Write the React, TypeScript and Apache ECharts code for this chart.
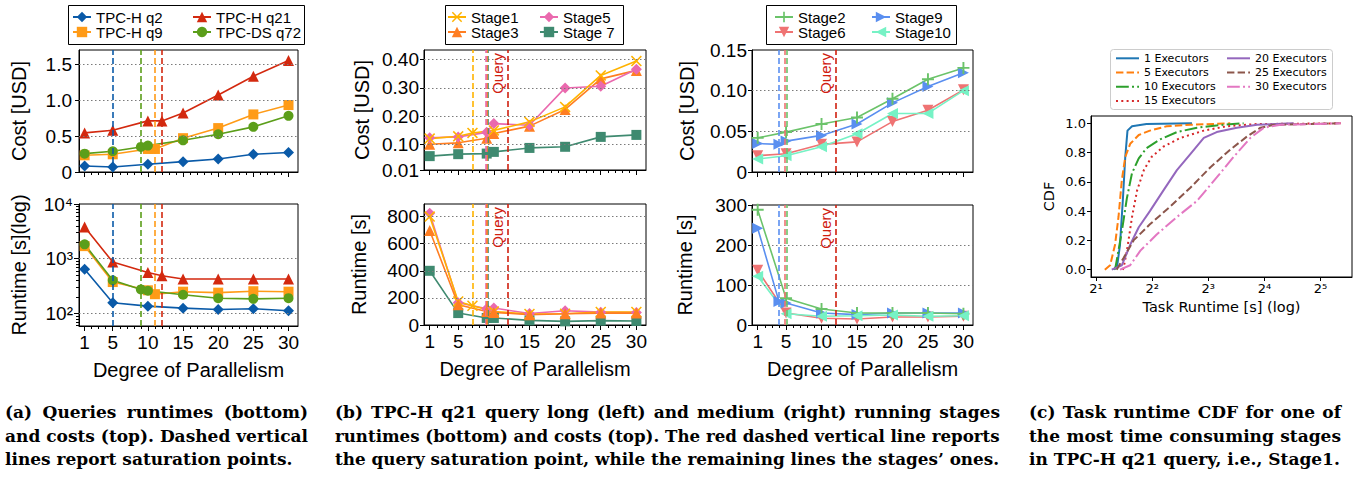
import React, { useEffect, useRef } from "react";
import * as echarts from "echarts";

// ---------------- shared ticks ----------------
const dopTicks = [1, 5, 10, 15, 20, 25, 30];
const dopMinorTicks = [2, 3, 4, 6, 7, 8, 9, 11, 12, 13, 14, 16, 17, 18, 19, 21, 22, 23, 24, 26, 27, 28, 29];

// ---------------- panel (a) ----------------
const costTicksA = [0, 0.5, 1.0, 1.5];
const costGridA = [0.5, 1.0, 1.5];
const runtimeTicksA = [100, 1000, 10000];
const runtimeTickTextA = ["10²", "10³", "10⁴"];
const runtimeMinorTicksA = [60, 70, 80, 90, 200, 300, 400, 500, 600, 700, 800, 900, 2000, 3000, 4000, 5000, 6000, 7000, 8000, 9000];
const runtimeGridA = [100, 1000];

const q2X = [1, 5, 10, 15, 20, 25, 30];
const q2Cost = [0.084, 0.07, 0.107, 0.144, 0.18, 0.246, 0.27];
const q2Run = [640, 157, 136, 125, 118, 122, 112];
const q9X = [1, 5, 10, 11, 15, 20, 25, 30];
const q9Cost = [0.232, 0.246, 0.32, 0.32, 0.47, 0.61, 0.8, 0.93];
const q9Run = [1700, 375, 265, 225, 250, 240, 255, 250];
const q21X = [1, 5, 10, 12, 15, 20, 25, 30];
const q21Cost = [0.543, 0.58, 0.71, 0.71, 0.82, 1.07, 1.33, 1.55];
const q21Run = [3800, 870, 560, 490, 425, 425, 425, 425];
const q72X = [1, 5, 9, 10, 15, 20, 25, 30];
const q72Cost = [0.255, 0.288, 0.348, 0.367, 0.44, 0.525, 0.627, 0.78];
const q72Run = [1830, 405, 275, 260, 220, 190, 185, 190];
const querySaturation = [5, 11, 12, 9]; // q2, q9, q21, q72

// ---------------- panel (b) long stages ----------------
const costTicksBL = [0.01, 0.1, 0.2, 0.3, 0.4];
const costGridBL = [0.1, 0.2, 0.3, 0.4];
const runTicksBL = [0, 200, 400, 600, 800];
const runGridBL = [200, 400, 600, 800];
const s1X = [1, 5, 7, 10, 15, 20, 25, 30];
const s1Cost = [0.121, 0.129, 0.141, 0.15, 0.18, 0.233, 0.344, 0.395];
const s1Run = [800, 174, 142, 100, 81, 83, 96, 96];
const s3X = [1, 5, 9, 10, 15, 20, 25, 30];
const s3Cost = [0.101, 0.106, 0.122, 0.139, 0.165, 0.224, 0.332, 0.362];
const s3Run = [697, 150, 100, 93, 76, 83, 88, 88];
const s5X = [1, 5, 9, 10, 15, 20, 25, 30];
const s5Cost = [0.124, 0.127, 0.143, 0.174, 0.168, 0.3, 0.306, 0.366];
const s5Run = [824, 165, 120, 125, 85, 105, 95, 92];
const s7X = [1, 5, 9, 10, 15, 20, 25, 30];
const s7Cost = [0.059, 0.066, 0.068, 0.074, 0.088, 0.092, 0.127, 0.134];
const s7Run = [400, 88, 52, 52, 34, 27, 32, 30];
const longSaturation = [7, 9.0, 8.8, 9.2]; // stage1, stage3, stage5, stage7
const querySat = 12;

// ---------------- panel (b) medium stages ----------------
const costTicksBR = [0, 0.05, 0.1, 0.15];
const costGridBR = [0.05, 0.1];
const runTicksBR = [0, 100, 200, 300];
const runGridBR = [100, 200];
const s2X = [1, 5, 10, 15, 20, 25, 30];
const s2Cost = [0.042, 0.049, 0.059, 0.067, 0.09, 0.114, 0.128];
const s2Run = [288, 67, 40, 30, 30, 30, 28];
const s6X = [1, 5, 10, 15, 20, 25, 30];
const s6Cost = [0.02, 0.0225, 0.034, 0.037, 0.062, 0.076, 0.101];
const s6Run = [137, 30, 17, 15, 20, 20, 22];
const s9X = [1, 4, 5, 10, 15, 20, 25, 30];
const s9Cost = [0.035, 0.034, 0.038, 0.045, 0.059, 0.085, 0.105, 0.122];
const s9Run = [242, 59, 55, 30, 26, 30, 30, 30];
const s10X = [1, 5, 10, 15, 20, 25, 30];
const s10Cost = [0.016, 0.02, 0.031, 0.047, 0.072, 0.072, 0.1];
const s10Run = [122, 28, 22, 23, 25, 22, 23];
const mediumSaturation = [5.1, 4.85, 4]; // stage2, stage6, stage9

// ---------------- panel (c) CDF ----------------
const cdfXTicks = [2, 4, 8, 16, 32];
const cdfXTickText = ["2¹", "2²", "2³", "2⁴", "2⁵"];
const cdfYTicks = [0, 0.2, 0.4, 0.6, 0.8, 1.0];
const exec1 = [[2.48, 0], [2.6, 0.03], [2.69, 0.17], [2.79, 0.49], [2.87, 0.77], [2.95, 0.95], [3.12, 0.98], [3.73, 0.995], [6.54, 1.0]];
const exec5 = [[2.23, 0], [2.38, 0.03], [2.53, 0.17], [2.64, 0.36], [2.75, 0.61], [2.87, 0.77], [3.05, 0.86], [3.39, 0.92], [3.89, 0.95], [4.79, 0.98], [6.41, 0.99], [10.49, 1.0]];
const exec10 = [[2.53, 0], [2.58, 0.06], [2.75, 0.26], [2.93, 0.49], [3.12, 0.66], [3.39, 0.76], [3.73, 0.83], [4.41, 0.89], [5.43, 0.94], [6.96, 0.97], [9.65, 0.99], [12.38, 1.0]];
const exec15 = [[2.78, 0], [2.81, 0.01], [2.93, 0.13], [3.12, 0.36], [3.32, 0.54], [3.61, 0.68], [3.97, 0.77], [4.59, 0.84], [5.66, 0.9], [7.57, 0.95], [10.06, 0.98], [14.62, 0.995], [41.07, 1.0]];
const exec20 = [[2.43, 0], [2.75, 0.03], [3.05, 0.17], [3.39, 0.29], [3.89, 0.4], [4.59, 0.54], [5.43, 0.68], [6.41, 0.79], [7.57, 0.9], [8.88, 0.94], [11.39, 0.97], [14.62, 0.99], [22.94, 1.0]];
const exec25 = [[2.58, 0], [2.81, 0.08], [3.18, 0.2], [3.89, 0.31], [4.99, 0.43], [6.41, 0.56], [8.22, 0.7], [10.49, 0.82], [12.91, 0.91], [15.24, 0.97], [18.0, 0.99], [41.07, 1.0]];
const exec30 = [[2.69, 0], [3.05, 0.03], [3.46, 0.13], [4.23, 0.24], [5.43, 0.36], [6.96, 0.47], [8.88, 0.63], [10.93, 0.77], [13.45, 0.9], [15.89, 0.97], [19.57, 0.99], [41.07, 1.0]];
const execNames = ["1 Executors", "5 Executors", "10 Executors", "15 Executors", "20 Executors", "25 Executors", "30 Executors"];

// ---------------- captions ----------------
const captionA = ["(a) Queries runtimes (bottom)", "and costs (top). Dashed vertical", "lines report saturation points."];
const captionB = [
  "(b) TPC-H q21 query long (left) and medium (right) running stages",
  "runtimes (bottom) and costs (top). The red dashed vertical line reports",
  "the query saturation point, while the remaining lines the stages’ ones.",
];
const captionC = ["(c) Task runtime CDF for one of", "the most time consuming stages", "in TPC-H q21 query, i.e., Stage1."];

// ---------------- styling ----------------
const SANS = "Liberation Sans";
const DEJAVU = "DejaVu Sans";
const C_Q2 = "#0a5aa8", C_Q9 = "#ff9b17", C_Q21 = "#d3290f", C_Q72 = "#5b9e1a";
const C_S1 = "#ffb300", C_S3 = "#ff7e22", C_S5 = "#ea69ae", C_S7 = "#3f8a70";
const C_S2 = "#6bc36a", C_S6 = "#ef7373", C_S9 = "#5a8ff0", C_S10 = "#76f2c5";
const C_QUERY = "#d0200f";
const TAB = ["#1f77b4", "#ff7f0e", "#2ca02c", "#d62728", "#9467bd", "#8c564b", "#e377c2"];
const X_SYM = "path://M1,0 L5,4 L9,0 L10,1 L6,5 L10,9 L9,10 L5,6 L1,10 L0,9 L4,5 L0,1 Z";
const PLUS_SYM = "path://M4.2,0 H5.8 V4.2 H10 V5.8 H5.8 V10 H4.2 V5.8 H0 V4.2 H4.2 Z";
const X_MIN = 0.2, X_MAX = 31.35;
const TICK_FS = 19, NAME_FS = 20;

const dotted = { color: "#7a7a7a", width: 1, type: [1.5, 2.5] };
const dashed = (color: string) => ({ color, width: 1.6, type: [6, 3] });

function hLines(vals: number[]) {
  return vals.map((v) => ({ yAxis: v, lineStyle: dotted }));
}
function vLine(x: number, color: string) {
  return { xAxis: x, lineStyle: dashed(color) };
}
function queryLine(x: number) {
  return {
    xAxis: x,
    lineStyle: dashed(C_QUERY),
    label: { show: true, formatter: "Query", position: "insideEndTop", color: C_QUERY, fontSize: 15, fontFamily: SANS, distance: 3 },
  };
}
function mk(data: any[]) {
  return { silent: true, symbol: ["none", "none"], label: { show: false }, data };
}

function line(name: string, xs: number[], ys: number[], color: string, symbol: string, size: number, xi: number, yi: number, rotate = 0, marks: any[] = []) {
  const s: any = {
    type: "line",
    name,
    xAxisIndex: xi,
    yAxisIndex: yi,
    data: xs.map((x, i) => [x, ys[i]]),
    symbol,
    symbolSize: size,
    symbolRotate: rotate,
    showSymbol: true,
    itemStyle: { color },
    lineStyle: { color, width: 1.6 },
  };
  if (marks.length) s.markLine = mk(marks);
  return s;
}

function dopAxes(gridIndex: number, labels: boolean) {
  const main: any = {
    type: "value",
    gridIndex,
    position: "bottom",
    min: X_MIN,
    max: X_MAX,
    axisLine: { show: true, onZero: false, lineStyle: { color: "#000", width: 1 } },
    axisTick: { show: true, customValues: dopTicks, length: 5, lineStyle: { color: "#000" } },
    axisLabel: { show: labels, customValues: dopTicks, fontSize: TICK_FS, fontFamily: SANS, color: "#000", margin: 7 },
    splitLine: { show: false },
  };
  if (labels) {
    main.name = "Degree of Parallelism";
    main.nameLocation = "middle";
    main.nameGap = 34;
    main.nameTextStyle = { fontSize: NAME_FS, fontFamily: SANS, color: "#000" };
  }
  const minor = {
    type: "value",
    gridIndex,
    position: "bottom",
    min: X_MIN,
    max: X_MAX,
    axisLine: { show: false },
    axisTick: { show: true, customValues: dopMinorTicks, length: 3, lineStyle: { color: "#000" } },
    axisLabel: { show: false },
    splitLine: { show: false },
  };
  return [main, minor];
}

function valueY(gridIndex: number, min: number, max: number, ticks: number[], fmt: (v: number) => string, name: string, nameGap: number, margin = 5) {
  return {
    type: "value",
    gridIndex,
    position: "left",
    min,
    max,
    axisLine: { show: true, onZero: false, lineStyle: { color: "#000", width: 1 } },
    axisTick: { show: true, customValues: ticks, length: 4, lineStyle: { color: "#000" } },
    axisLabel: { customValues: ticks, formatter: fmt, fontSize: TICK_FS, fontFamily: SANS, color: "#000", margin },
    splitLine: { show: false },
    name,
    nameLocation: "middle",
    nameGap,
    nameTextStyle: { fontSize: NAME_FS, fontFamily: SANS, color: "#000" },
  };
}

function legendCol(names: string[], left: number, top: number, font: string, size: number, w: number, h: number, lh: number, extra: any = {}) {
  return {
    data: names,
    left,
    top,
    orient: "vertical",
    itemWidth: w,
    itemHeight: h,
    itemGap: 0,
    padding: 0,
    selectedMode: false,
    textStyle: { fontFamily: font, fontSize: size, color: "#000", lineHeight: lh },
    ...extra,
  };
}

let measureCtx: CanvasRenderingContext2D | null = null;
function measure(text: string, font: string) {
  if (!measureCtx) measureCtx = document.createElement("canvas").getContext("2d");
  measureCtx!.font = font;
  return measureCtx!.measureText(text).width;
}

function caption(lines: string[], justify: boolean[], x0: number, width: number, y0: number, lh: number, size: number) {
  const fam = "DejaVu Serif";
  const font = `bold ${size}px "${fam}"`;
  const els: any[] = [];
  lines.forEach((ln, i) => {
    const y = y0 + i * lh;
    const base = { fontFamily: fam, fontWeight: "bold", fontSize: size, fill: "#000", textAlign: "left", align: "left", textVerticalAlign: "middle", verticalAlign: "middle" };
    const words = ln.split(" ");
    const natural = measure(ln, font);
    if (justify[i] && natural < width && words.length > 1) {
      const ws = words.map((w) => measure(w, font));
      const tot = ws.reduce((a, b) => a + b, 0);
      const gap = (width - tot) / (words.length - 1);
      let x = x0;
      words.forEach((w, j) => {
        els.push({ type: "text", x, y, style: { ...base, text: w } });
        x += ws[j] + gap;
      });
    } else {
      const sx = natural > width ? width / natural : 1;
      els.push({ type: "text", x: x0, y, scaleX: sx, style: { ...base, text: ln } });
    }
  });
  return els;
}

function buildOption() {
  const grids = [
    { left: 79, top: 50, width: 219, height: 122 },
    { left: 79, top: 204, width: 219, height: 122 },
    { left: 424, top: 50, width: 222, height: 120 },
    { left: 424, top: 204, width: 222, height: 121 },
    { left: 752, top: 50, width: 221, height: 122 },
    { left: 752, top: 205, width: 221, height: 120 },
    { left: 1091, top: 116, width: 261, height: 161 },
  ].map((g) => ({ ...g, show: true, borderColor: "#000", borderWidth: 1, backgroundColor: "transparent", containLabel: false }));

  const xAxis: any[] = [
    ...dopAxes(0, false),
    ...dopAxes(1, true),
    ...dopAxes(2, false),
    ...dopAxes(3, true),
    ...dopAxes(4, false),
    ...dopAxes(5, true),
    {
      type: "log",
      logBase: 2,
      gridIndex: 6,
      position: "bottom",
      min: 1.88,
      max: 47.2,
      axisLine: { show: true, onZero: false, lineStyle: { color: "#000" } },
      axisTick: { show: true, customValues: cdfXTicks, length: 4, lineStyle: { color: "#000" } },
      axisLabel: {
        customValues: cdfXTicks,
        formatter: (v: number) => cdfXTickText[cdfXTicks.indexOf(Math.round(v))] ?? "",
        fontSize: 13,
        fontFamily: DEJAVU,
        color: "#000",
        margin: 5,
      },
      splitLine: { show: false },
      name: "Task Runtime [s] (log)",
      nameLocation: "middle",
      nameGap: 22,
      nameTextStyle: { fontSize: 14.5, fontFamily: DEJAVU, color: "#000" },
    },
  ];

  const fmt2 = (v: number) => v.toFixed(2);
  const yAxis: any[] = [
    valueY(0, 0, 1.695, costTicksA, (v) => (v === 0 ? "0" : v.toFixed(1)), "Cost [USD]", 50, 7),
    {
      type: "log",
      logBase: 10,
      gridIndex: 1,
      position: "left",
      min: 59,
      max: 10000,
      axisLine: { show: true, onZero: false, lineStyle: { color: "#000" } },
      axisTick: { show: true, customValues: runtimeTicksA, length: 5, lineStyle: { color: "#000" } },
      axisLabel: {
        customValues: runtimeTicksA,
        formatter: (v: number) => runtimeTickTextA[runtimeTicksA.indexOf(Math.round(v))] ?? "",
        fontSize: TICK_FS,
        fontFamily: SANS,
        color: "#000",
        margin: 6,
      },
      splitLine: { show: false },
      name: "Runtime [s](log)",
      nameLocation: "middle",
      nameGap: 50,
      nameTextStyle: { fontSize: NAME_FS, fontFamily: SANS, color: "#000" },
    },
    {
      type: "log",
      logBase: 10,
      gridIndex: 1,
      position: "left",
      min: 59,
      max: 10000,
      axisLine: { show: false },
      axisTick: { show: true, customValues: runtimeMinorTicksA, length: 3, lineStyle: { color: "#000" } },
      axisLabel: { show: false },
      splitLine: { show: false },
    },
    valueY(2, 0.01, 0.434, costTicksBL, fmt2, "Cost [USD]", 52, 5),
    valueY(3, 0, 893, runTicksBL, (v) => String(v), "Runtime [s]", 55, 5),
    valueY(4, 0, 0.15, costTicksBR, (v) => (v === 0 ? "0" : v.toFixed(2)), "Cost [USD]", 55, 5),
    valueY(5, 0, 300, runTicksBR, (v) => String(v), "Runtime [s]", 57, 5),
    {
      type: "value",
      gridIndex: 6,
      position: "left",
      min: -0.05,
      max: 1.05,
      axisLine: { show: true, onZero: false, lineStyle: { color: "#000" } },
      axisTick: { show: true, customValues: cdfYTicks, length: 4, lineStyle: { color: "#000" } },
      axisLabel: { customValues: cdfYTicks, formatter: (v: number) => v.toFixed(1), fontSize: 13, fontFamily: DEJAVU, color: "#000", margin: 5 },
      splitLine: { show: false },
      name: "CDF",
      nameLocation: "middle",
      nameGap: 35,
      nameTextStyle: { fontSize: 14.5, fontFamily: DEJAVU, color: "#000" },
    },
  ];

  const series: any[] = [
    // (a) cost
    line("TPC-H q2", q2X, q2Cost, C_Q2, "diamond", 11, 0, 0, 0, [...hLines(costGridA), vLine(querySaturation[0], C_Q2)]),
    line("TPC-H q9", q9X, q9Cost, C_Q9, "rect", 10, 0, 0, 0, [vLine(querySaturation[1], C_Q9)]),
    line("TPC-H q21", q21X, q21Cost, C_Q21, "triangle", 11, 0, 0, 0, [vLine(querySaturation[2], C_Q21)]),
    line("TPC-DS q72", q72X, q72Cost, C_Q72, "circle", 10, 0, 0, 0, [vLine(querySaturation[3], C_Q72)]),
    // (a) runtime
    line("TPC-H q2", q2X, q2Run, C_Q2, "diamond", 11, 2, 1, 0, [...hLines(runtimeGridA), vLine(querySaturation[0], C_Q2)]),
    line("TPC-H q9", q9X, q9Run, C_Q9, "rect", 10, 2, 1, 0, [vLine(querySaturation[1], C_Q9)]),
    line("TPC-H q21", q21X, q21Run, C_Q21, "triangle", 11, 2, 1, 0, [vLine(querySaturation[2], C_Q21)]),
    line("TPC-DS q72", q72X, q72Run, C_Q72, "circle", 10, 2, 1, 0, [vLine(querySaturation[3], C_Q72)]),
    // (b) long cost
    line("Stage 7", s7X, s7Cost, C_S7, "rect", 10, 4, 3, 0, [...hLines(costGridBL), vLine(longSaturation[3], C_S7), queryLine(querySat)]),
    line("Stage3", s3X, s3Cost, C_S3, "triangle", 11, 4, 3, 0, [vLine(longSaturation[1], C_S3)]),
    line("Stage5", s5X, s5Cost, C_S5, "diamond", 11, 4, 3, 0, [vLine(longSaturation[2], C_S5)]),
    line("Stage1", s1X, s1Cost, C_S1, X_SYM, 11, 4, 3, 0, [vLine(longSaturation[0], C_S1)]),
    // (b) long runtime
    line("Stage 7", s7X, s7Run, C_S7, "rect", 10, 6, 4, 0, [...hLines(runGridBL), vLine(longSaturation[3], C_S7), queryLine(querySat)]),
    line("Stage5", s5X, s5Run, C_S5, "diamond", 11, 6, 4, 0, [vLine(longSaturation[2], C_S5)]),
    line("Stage1", s1X, s1Run, C_S1, X_SYM, 11, 6, 4, 0, [vLine(longSaturation[0], C_S1)]),
    line("Stage3", s3X, s3Run, C_S3, "triangle", 11, 6, 4, 0, [vLine(longSaturation[1], C_S3)]),
    // (b) medium cost
    line("Stage6", s6X, s6Cost, C_S6, "triangle", 11, 8, 5, 180, [...hLines(costGridBR), vLine(mediumSaturation[1], C_S6), queryLine(querySat)]),
    line("Stage10", s10X, s10Cost, C_S10, "triangle", 11, 8, 5, 90),
    line("Stage9", s9X, s9Cost, C_S9, "triangle", 11, 8, 5, -90, [vLine(mediumSaturation[2], C_S9)]),
    line("Stage2", s2X, s2Cost, C_S2, PLUS_SYM, 12, 8, 5, 0, [vLine(mediumSaturation[0], C_S2)]),
    // (b) medium runtime
    line("Stage6", s6X, s6Run, C_S6, "triangle", 11, 10, 6, 180, [...hLines(runGridBR), vLine(mediumSaturation[1], C_S6), queryLine(querySat)]),
    line("Stage9", s9X, s9Run, C_S9, "triangle", 11, 10, 6, -90, [vLine(mediumSaturation[2], C_S9)]),
    line("Stage2", s2X, s2Run, C_S2, PLUS_SYM, 12, 10, 6, 0, [vLine(mediumSaturation[0], C_S2)]),
    line("Stage10", s10X, s10Run, C_S10, "triangle", 11, 10, 6, 90),
  ];

  const cdfData = [exec1, exec5, exec10, exec15, exec20, exec25, exec30];
  const cdfTypes: any[] = ["solid", [7.4, 3.2], [12.8, 3.2, 2, 3.2], [2, 3.3], "solid", [7.4, 3.2], [12.8, 3.2, 2, 3.2]];
  cdfData.forEach((d, i) => {
    series.push({
      type: "line",
      name: execNames[i],
      xAxisIndex: 12,
      yAxisIndex: 7,
      data: d,
      symbol: "none",
      showSymbol: false,
      itemStyle: { color: TAB[i] },
      lineStyle: { color: TAB[i], width: 2, type: cdfTypes[i] },
    });
  });

  const legend = [
    legendCol(["TPC-H q2", "TPC-H q9"], 72, 9.5, SANS, 15, 18, 13, 15),
    legendCol(["TPC-H q21", "TPC-DS q72"], 192, 9.5, SANS, 15, 18, 13, 15),
    legendCol(["Stage1", "Stage3"], 447, 9.5, SANS, 15, 18, 13, 15),
    legendCol(["Stage5", "Stage 7"], 539, 9.5, SANS, 15, 18, 13, 15),
    legendCol(["Stage2", "Stage6"], 774, 9.5, SANS, 15, 18, 13, 15),
    legendCol(["Stage9", "Stage10"], 871, 9.5, SANS, 15, 18, 13, 15),
    legendCol(execNames.slice(0, 4), 1115, 51.2, DEJAVU, 11, 23, 10, 14.2, { itemStyle: { opacity: 0 } }),
    legendCol(execNames.slice(4), 1226, 51.2, DEJAVU, 11, 23, 10, 14.2, { itemStyle: { opacity: 0 } }),
  ];

  const boxes = [
    { type: "rect", shape: { x: 68.5, y: 5.5, width: 236, height: 39 }, style: { fill: "none", stroke: "#000", lineWidth: 1 }, z: 10 },
    { type: "rect", shape: { x: 445.5, y: 5.5, width: 178, height: 39 }, style: { fill: "none", stroke: "#000", lineWidth: 1 }, z: 10 },
    { type: "rect", shape: { x: 766.5, y: 5.5, width: 190, height: 39 }, style: { fill: "none", stroke: "#000", lineWidth: 1 }, z: 10 },
    { type: "rect", shape: { x: 1110.5, y: 49.5, width: 222, height: 60, r: 3 }, style: { fill: "rgba(255,255,255,0.8)", stroke: "#cccccc", lineWidth: 1 }, z: 1 },
  ];

  const graphic = [
    ...boxes,
    ...caption(captionA, [true, true, false], 5, 303, 412, 23.5, 17),
    ...caption(captionB, [true, true, true], 335, 665, 412, 23.5, 17),
    ...caption(captionC, [true, true, false], 1029, 312, 412, 23.5, 17),
  ];

  return {
    animation: false,
    backgroundColor: "#fff",
    grid: grids,
    xAxis,
    yAxis,
    legend,
    series,
    graphic,
  };
}

export default function App() {
  const ref = useRef<HTMLDivElement>(null);
  useEffect(() => {
    const chart = echarts.init(ref.current!, null, { renderer: "svg" });
    chart.setOption(buildOption() as any);
    return () => chart.dispose();
  }, []);
  return <div ref={ref} style={{ position: "absolute", left: 0, top: 0, width: 1362, height: 479, background: "#fff" }} />;
}
